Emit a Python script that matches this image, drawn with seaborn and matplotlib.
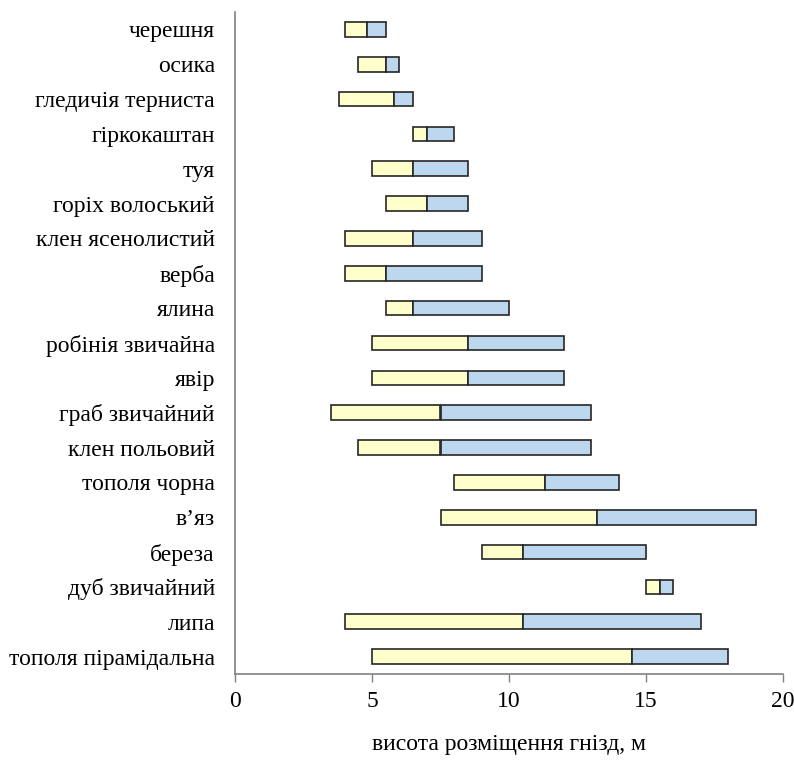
import matplotlib
matplotlib.use("Agg")
import matplotlib.pyplot as plt
import seaborn as sns
import pandas as pd

species = ["черешня", "осика", "гледичія терниста", "гіркокаштан", "туя",
           "горіх волоський", "клен ясенолистий", "верба", "ялина",
           "робінія звичайна", "явір", "граб звичайний", "клен польовий",
           "тополя чорна", "в’яз", "береза", "дуб звичайний", "липа",
           "тополя пірамідальна"]
h_min = [4, 4.5, 3.8, 6.5, 5, 5.5, 4, 4, 5.5, 5, 5, 3.5, 4.5, 8, 7.5, 9, 15, 4, 5]
h_mid = [4.8, 5.5, 5.8, 7, 6.5, 7, 6.5, 5.5, 6.5, 8.5, 8.5, 7.5, 7.5, 11.3, 13.2, 10.5, 15.5, 10.5, 14.5]
h_max = [5.5, 6, 6.5, 8, 8.5, 8.5, 9, 9, 10, 12, 12, 13, 13, 14, 19, 15, 16, 17, 18]
x_ticks = [0, 5, 10, 15, 20]
x_label = "висота розміщення гнізд, м"

df = pd.DataFrame({"species": species, "lo": h_min, "mid": h_mid, "hi": h_max})
df["low_part"] = df["mid"] - df["lo"]
df["high_part"] = df["hi"] - df["mid"]

sns.set_theme(style="white")
plt.rcParams["font.family"] = ["Liberation Serif", "DejaVu Serif"]
plt.rcParams["text.color"] = "black"
plt.rcParams["xtick.color"] = "black"
plt.rcParams["ytick.color"] = "black"

fig = plt.figure(figsize=(7.94, 7.67), dpi=100)
ax = fig.add_axes([235 / 794, 1 - 674 / 767, (783 - 235) / 794, (674 - 12) / 767])

edge = "#262626"
sns.barplot(data=df, y="species", x="low_part", order=species, orient="h",
            left=df["lo"].to_numpy(), color="#FFFFCC", saturation=1,
            edgecolor=edge, linewidth=1.2, width=0.42, ax=ax)
sns.barplot(data=df, y="species", x="high_part", order=species, orient="h",
            left=df["mid"].to_numpy(), color="#BDD7EE", saturation=1,
            edgecolor=edge, linewidth=1.2, width=0.42, ax=ax)

ax.set_xlim(0, 20)
ax.set_xticks(x_ticks)
ax.set_xticklabels([str(t) for t in x_ticks], fontsize=17)
ax.set_ylabel("")
ax.set_xlabel(x_label, fontsize=17, labelpad=16, color="black")
ax.tick_params(axis="y", labelsize=17, length=0, pad=14.5, labelcolor="black")
ax.tick_params(axis="x", length=6, width=1, color="#808080", direction="out",
               bottom=True, pad=6, labelcolor="black")
for s in ["top", "right"]:
    ax.spines[s].set_visible(False)
for s in ["left", "bottom"]:
    ax.spines[s].set_color("#808080")
    ax.spines[s].set_linewidth(1.2)

fig.savefig("out.png", dpi=100)
